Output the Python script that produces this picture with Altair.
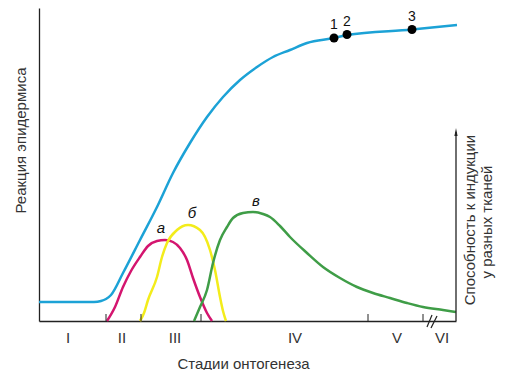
import altair as alt
import pandas as pd

FONT = "Liberation Sans"
AXIS_COLOR = "#222222"
TEXT_COLOR = "#333333"

# Reaction of the epidermis (blue curve)
blue_x = [0, 55, 62, 67, 72, 84, 101, 118, 134, 151, 168, 184, 201, 218, 234, 251, 268, 295, 308, 373, 418]
blue_y = [19, 19, 20, 22, 26, 48, 81, 114, 148, 178, 204, 224, 241, 254, 264, 271, 278, 283, 286, 291.5, 296]

# Competence curves a, b, v
a_x = [68, 76, 84, 92, 101, 109, 118, 126, 134, 141, 148, 154, 161, 168, 173]
a_y = [0, 14, 34, 50, 64, 75, 80, 81, 79, 73, 61, 43, 24, 8, 0]

b_x = [101, 105, 109, 118, 123, 128, 138, 149, 161, 171, 176, 181, 184, 187]
b_y = [0, 8, 21, 44, 64, 78, 91, 96, 91, 71, 51, 24, 10, 0]

v_x = [155, 161, 168, 174, 181, 188, 194, 204, 214, 224, 231, 241, 251, 268, 284, 301, 318, 334, 351, 368, 384, 404, 417]
v_y = [0, 14, 31, 58, 81, 94, 103, 108, 109, 107, 104, 95, 84, 68, 54, 43, 34, 28, 23, 18, 14, 11, 9]

# Marked points 1, 2, 3
pt_x = [295, 308, 373]
pt_y = [283, 286.5, 291.5]
pt_lab = ["1", "2", "3"]

# Curve labels
cl_x = [122, 153, 217]
cl_y = [93, 108, 120]
cl_lab = ["а", "б", "в"]

# Stages of ontogenesis
stage_lab = ["I", "II", "III", "IV", "V", "VI"]
stage_x = [29, 83, 136, 256, 358, 403]
stage_y = [-17] * 6
tick_x = [67, 102, 162, 329, 384]
tick_bot = [0] * 5
tick_top = [7] * 5

# break mark "//"
brk_x = [388, 392]
brk_y = [-6, -7]
brk_x2 = [393, 398]
brk_y2 = [6, 5]

# right axis (competence)
raxis_x = [417]
raxis_y = [0]
raxis_y2 = [189]
arrow_y = [188]

rt_lab = ["Способность к индукции", "у разных тканей"]
rt_x = [431, 448]
rt_y = [101, 99]

xs = alt.Scale(domain=[0, 417], nice=False, zero=False)
ys = alt.Scale(domain=[0, 313], nice=False, zero=False)

AX = alt.Axis(
    domain=True, domainColor=AXIS_COLOR, domainWidth=1.3, ticks=False, labels=False,
    grid=False, title="Стадии онтогенеза", titleFont=FONT, titleFontSize=15,
    titleFontWeight="normal", titleColor=TEXT_COLOR, titleX=204, titleY=42,
    titleBaseline="middle", titleAlign="center")
AY = alt.Axis(
    domain=True, domainColor=AXIS_COLOR, domainWidth=1.3, ticks=False, labels=False,
    grid=False, title="Реакция эпидермиса", titleFont=FONT, titleFontSize=15,
    titleFontWeight="normal", titleColor=TEXT_COLOR, titleX=-19, titleY=132,
    titleAngle=270, titleBaseline="middle", titleAlign="center")


def X(f):
    return alt.X(f, type="quantitative", scale=xs, axis=AX)


def Y(f):
    return alt.Y(f, type="quantitative", scale=ys, axis=AY)


def curve(xv, yv, color):
    df = pd.DataFrame({"x": xv, "y": yv})
    return alt.Chart(df).mark_line(color=color, strokeWidth=2.5, interpolate="monotone").encode(
        x=X("x"), y=Y("y"))


blue_layer = curve(blue_x, blue_y, "#1CA2D6")
a_layer = curve(a_x, a_y, "#D4156F")
b_layer = curve(b_x, b_y, "#F3EC1B")
v_layer = curve(v_x, v_y, "#3F9D47")

pts = pd.DataFrame({"x": pt_x, "y": pt_y, "t": pt_lab})
pt_layer = alt.Chart(pts).mark_circle(color="#000000", size=80, opacity=1).encode(x=X("x"), y=Y("y"))
pt_text = alt.Chart(pts).mark_text(font=FONT, fontSize=14, color="#111111", dy=-13).encode(
    x=X("x"), y=Y("y"), text="t:N")

cl = pd.DataFrame({"x": cl_x, "y": cl_y, "t": cl_lab})
cl_text = alt.Chart(cl).mark_text(font=FONT, fontSize=15, fontStyle="italic", color="#111111").encode(
    x=X("x"), y=Y("y"), text="t:N")

st = pd.DataFrame({"x": stage_x, "y": stage_y, "t": stage_lab})
st_text = alt.Chart(st).mark_text(font=FONT, fontSize=15, color=TEXT_COLOR, baseline="middle").encode(
    x=X("x"), y=Y("y"), text="t:N")

tk = pd.DataFrame({"x": tick_x, "y": tick_bot, "y2": tick_top})
tk_layer = alt.Chart(tk).mark_rule(color=AXIS_COLOR, strokeWidth=1).encode(
    x=X("x"), y=Y("y"), y2="y2:Q")

br = pd.DataFrame({"x": brk_x, "y": brk_y, "x2": brk_x2, "y2": brk_y2})
br_layer = alt.Chart(br).mark_rule(color=AXIS_COLOR, strokeWidth=1.2).encode(
    x=X("x"), y=Y("y"), x2="x2:Q", y2="y2:Q")

ra = pd.DataFrame({"x": raxis_x, "y": raxis_y, "y2": raxis_y2, "ya": arrow_y})
ra_layer = alt.Chart(ra).mark_rule(color=AXIS_COLOR, strokeWidth=1.3).encode(
    x=X("x"), y=Y("y"), y2="y2:Q")
arrow_layer = alt.Chart(ra).mark_point(
    shape="M0,-1L-0.32,0.6L0.32,0.6Z", filled=True, color=AXIS_COLOR, size=100, opacity=1
).encode(x=X("x"), y=Y("ya"))

rt = pd.DataFrame({"x": rt_x, "y": rt_y, "t": rt_lab})
rt_text = alt.Chart(rt).mark_text(font=FONT, fontSize=15, color=TEXT_COLOR, angle=270,
                                  align="center", baseline="middle").encode(
    x=X("x"), y=Y("y"), text="t:N")

chart = alt.layer(
    blue_layer, a_layer, b_layer, v_layer, tk_layer, br_layer, ra_layer, arrow_layer,
    pt_layer, pt_text, cl_text, st_text, rt_text
).properties(
    width=417, height=313,
    padding={"left": 31, "top": 0, "right": 50, "bottom": 49},
    autosize=alt.AutoSizeParams(type="none"),
).configure_view(stroke=None)

chart.save("out.html", embed_options={"renderer": "svg", "actions": False})
